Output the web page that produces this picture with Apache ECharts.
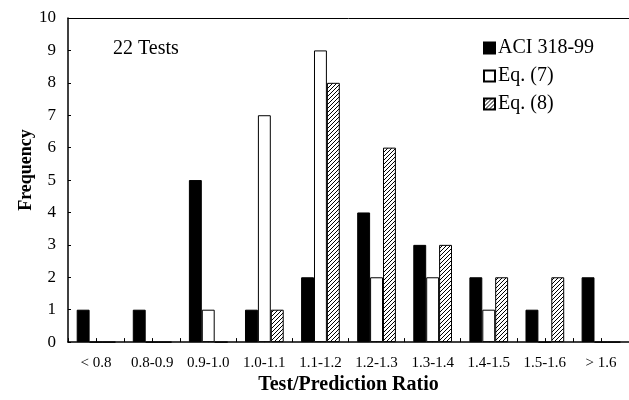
<!DOCTYPE html>
<html>
<head>
<meta charset="utf-8">
<script src="https://cdn.jsdelivr.net/npm/echarts@6/dist/echarts.min.js"></script>
<style>
  html, body { margin: 0; padding: 0; background: #fff; }
  #main { width: 629px; height: 400px; }
</style>
</head>
<body>
<div id="main"></div>
<script>
// bins of test/prediction ratio
const categories = ['< 0.8', '0.8-0.9', '0.9-1.0', '1.0-1.1', '1.1-1.2', '1.2-1.3', '1.3-1.4', '1.4-1.5', '1.5-1.6', '> 1.6'];
const aci = [1, 1, 5, 1, 2, 4, 3, 2, 1, 2];
const eq7 = [0, 0, 1, 7, 9, 2, 2, 1, 0, 0];
const eq8 = [0, 0, 0, 1, 8, 6, 3, 2, 2, 0];

const serif = 'Liberation Serif';

// diagonal hatch tile for Eq. (8)
function hatch() {
	const c = document.createElement('canvas');
	c.width = 4;
	c.height = 4;
	const ctx = c.getContext('2d');
	ctx.fillStyle = '#fff';
	ctx.fillRect(0, 0, 4, 4);
	ctx.strokeStyle = '#000';
	ctx.lineWidth = 1;
	ctx.beginPath();
	ctx.moveTo(0, 4); ctx.lineTo(4, 0);
	ctx.moveTo(-1, 1); ctx.lineTo(1, -1);
	ctx.moveTo(3, 5); ctx.lineTo(5, 3);
	ctx.stroke();
	return c;
}

const chart = echarts.init(document.getElementById('main'), null, {renderer: 'canvas'});

chart.setOption({
	animation: false,
	backgroundColor: '#fff',
	grid: {left: 68, right: -4, top: 18, bottom: 57},
	legend: {
		orient: 'vertical',
		left: 478,
		top: 33,
		itemWidth: 11,
		itemHeight: 11,
		itemGap: 8,
		icon: 'rect',
		textStyle: {fontFamily: serif, fontSize: 20, color: '#000', padding: [0, 0, 0, -2]},
		data: ['ACI 318-99', 'Eq. (7)', 'Eq. (8)']
	},
	graphic: [{
		type: 'text',
		left: 113,
		top: 39,
		style: {text: '22 Tests', fontFamily: serif, fontSize: 20, fill: '#000'}
	}, {
		type: 'text',
		x: 26,
		y: 170,
		rotation: Math.PI / 2,
		style: {text: 'Frequency', fontFamily: serif, fontSize: 18, fontWeight: 'bold', fill: '#000',
			align: 'center', verticalAlign: 'middle'}
	}],
	xAxis: [{
		type: 'category',
		data: categories,
		name: 'Test/Prediction Ratio',
		nameLocation: 'middle',
		nameGap: 30,
		nameTextStyle: {fontFamily: serif, fontSize: 20, fontWeight: 'bold', color: '#000'},
		axisLine: {lineStyle: {color: '#000', width: 1.5}},
		axisTick: {show: false},
		axisLabel: {fontFamily: serif, fontSize: 15, color: '#000', margin: 13}
	}, {
		type: 'category',
		position: 'top',
		data: categories,
		axisLine: {lineStyle: {color: '#000', width: 1}},
		axisTick: {show: false},
		axisLabel: {show: false}
	}, {
		// half-bin tick marks along the bottom
		type: 'value',
		position: 'bottom',
		min: 0,
		max: 10,
		interval: 0.5,
		axisLine: {show: false},
		axisTick: {show: true, inside: true, length: 4, lineStyle: {color: '#000'}},
		axisLabel: {show: false},
		splitLine: {show: false}
	}],
	yAxis: {
		type: 'value',
		min: 0,
		max: 10,
		interval: 1,
		axisLine: {show: true, lineStyle: {color: '#000', width: 1.5}},
		axisTick: {show: true, inside: true, length: 3, lineStyle: {color: '#000'}},
		axisLabel: {fontFamily: serif, fontSize: 17, color: '#000', margin: 12},
		splitLine: {show: false}
	},
	series: [{
		name: 'ACI 318-99',
		type: 'bar',
		data: aci,
		barGap: 0,
		barCategoryGap: '31%',
		itemStyle: {color: '#000', borderColor: '#000', borderWidth: 1}
	}, {
		name: 'Eq. (7)',
		type: 'bar',
		data: eq7,
		itemStyle: {color: '#fff', borderColor: '#000', borderWidth: 1}
	}, {
		name: 'Eq. (8)',
		type: 'bar',
		data: eq8,
		itemStyle: {color: {image: hatch(), repeat: 'repeat'}, borderColor: '#000', borderWidth: 1}
	}]
});
</script>
</body>
</html>
